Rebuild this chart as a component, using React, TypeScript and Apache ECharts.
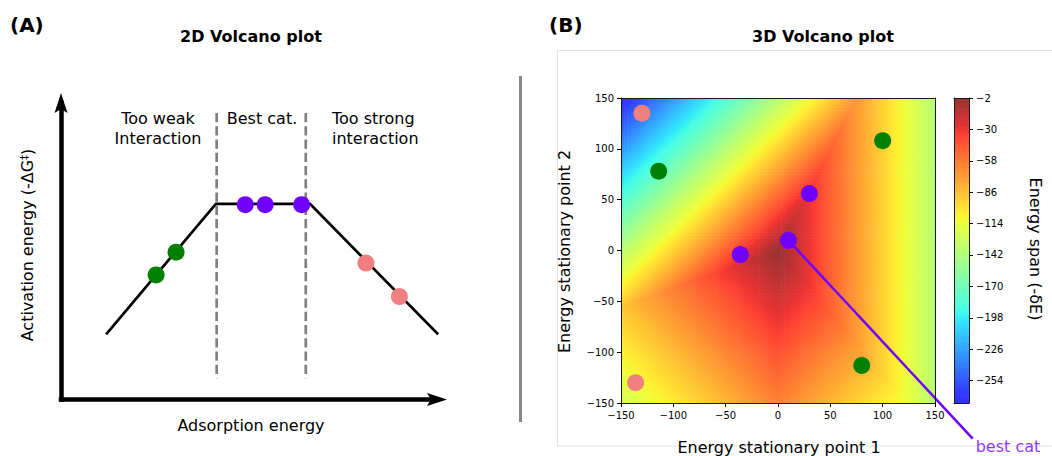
import React, { useEffect, useRef } from "react";
import * as echarts from "echarts";

const FONT = '"DejaVu Sans", Verdana, sans-serif';

// ---------- Panel A: schematic 2D volcano (arbitrary units, 0–10 on both axes) ----------
const volcanoX = [1.2, 4.12, 6.62, 10.03];
const volcanoY = [2.2, 6.6, 6.6, 2.2];
const weakCatX = [2.53, 3.06];
const weakCatY = [4.2, 4.97];
const bestCatX = [4.9, 5.43, 6.4];
const bestCatY = [6.57, 6.57, 6.57];
const strongCatX = [8.11, 9.0];
const strongCatY = [4.6, 3.47];
const regionBoundsX = [4.14, 6.51];
const regionBoundsY = [9.66, 0.72];

// ---------- Panel B: 3D volcano ----------
const stationaryTicks = [-150, -100, -50, 0, 50, 100, 150];
const greenX = [-114, 100, 80];
const greenY = [78, 108, -113];
const pinkX = [-130, -136];
const pinkY = [135, -130];
const purpleX = [-36, 10, 30];
const purpleY = [-4, 10, 56];
const pointerX = [10, 186];
const pointerY = [10, -185];
const spanTicks = [-2, -30, -58, -86, -114, -142, -170, -198, -226, -254];
const spanMin = -274;
const spanMax = -2;
// energy-span surface:
// -δE = peak − max(a·(E2−E1), b·E1, c·|E1| − d·E2)
const surfacePeak = -2;
const surfaceSlopes = [0.907, 0.907, 0.43, 0.39];
const surfaceStep = 3;

const heatCells: number[][] = [];
{
  const n = 300 / surfaceStep;
  const [a, b, c, d] = surfaceSlopes;
  for (let i = 0; i < n; i++) {
    const x = -150 + surfaceStep * (i + 0.5);
    for (let j = 0; j < n; j++) {
      const y = -150 + surfaceStep * (j + 0.5);
      const v = surfacePeak - Math.max(a * (y - x), b * x, c * Math.abs(x) - d * y);
      heatCells.push([x, y, v]);
    }
  }
}
const barStep = 2;
const barCells: number[][] = [];
for (let v = spanMin; v < spanMax; v += barStep) barCells.push([0.5, v + barStep / 2, v + barStep / 2]);

// jet colormap drawn at alpha 0.8 over white
const jetR = [[0, 0], [0.35, 0], [0.66, 1], [0.89, 1], [1, 0.5]];
const jetG = [[0, 0], [0.125, 0], [0.375, 1], [0.64, 1], [0.91, 0], [1, 0]];
const jetB = [[0, 0.5], [0.11, 1], [0.34, 1], [0.65, 0], [1, 0]];
function seg(stops: number[][], t: number) {
  for (let i = 1; i < stops.length; i++) {
    if (t <= stops[i][0]) {
      const [t0, v0] = stops[i - 1];
      const [t1, v1] = stops[i];
      return v0 + ((t - t0) / (t1 - t0)) * (v1 - v0);
    }
  }
  return stops[stops.length - 1][1];
}
function jet(t: number) {
  const f = (v: number) => Math.round(255 * (0.8 * v + 0.2));
  return `rgb(${f(seg(jetR, t))},${f(seg(jetG, t))},${f(seg(jetB, t))})`;
}
const palette: string[] = [];
for (let i = 0; i <= 54; i++) palette.push(jet(0.1 + (0.9 * i) / 54));

const zip = (xs: number[], ys: number[]) => xs.map((x, i) => [x, ys[i]]);
const minus = (v: number) => String(v).replace("-", "\u2212");

// layout of the panels (pixels)
const GA = { left: 61, top: 103, width: 376, height: 296.5 };
const GB = { left: 621, top: 98, width: 314, height: 305 };

function buildOption() {
  const series: any[] = [];
  // Panel A
  regionBoundsX.forEach((x) => {
    series.push({
      type: "line", xAxisIndex: 0, yAxisIndex: 0, z: 2, symbol: "none", silent: true,
      data: [[x, regionBoundsY[0]], [x, regionBoundsY[1]]],
      lineStyle: { color: "#808080", width: 2.7, type: [9.25, 4] },
    });
  });
  series.push({
    type: "line", xAxisIndex: 0, yAxisIndex: 0, z: 3, symbol: "none", clip: false,
    data: zip(volcanoX, volcanoY), lineStyle: { color: "#000", width: 2.7 },
  });
  const dotsA: [number[], number[], string][] = [
    [weakCatX, weakCatY, "#008000"],
    [bestCatX, bestCatY, "#7000ff"],
    [strongCatX, strongCatY, "#f08080"],
  ];
  dotsA.forEach(([xs, ys, c]) =>
    series.push({
      type: "scatter", xAxisIndex: 0, yAxisIndex: 0, z: 4, symbolSize: 17,
      data: zip(xs, ys), itemStyle: { color: c, opacity: 1 },
    })
  );
  // Panel B heat map
  const heatIndex = series.length;
  series.push({
    type: "custom", xAxisIndex: 1, yAxisIndex: 1, z: 1, clip: true, silent: true,
    data: heatCells,
    renderItem: (_p: any, api: any) => {
      const x = api.value(0), y = api.value(1), h = surfaceStep / 2;
      const p0 = api.coord([x - h, y + h]);
      const p1 = api.coord([x + h, y - h]);
      return {
        type: "rect",
        shape: { x: p0[0], y: p0[1], width: p1[0] - p0[0] + 0.6, height: p1[1] - p0[1] + 0.6 },
        style: { fill: api.visual("color") },
      };
    },
  });
  const barIndex = series.length;
  series.push({
    type: "custom", xAxisIndex: 3, yAxisIndex: 3, z: 1, clip: true, silent: true,
    data: barCells,
    renderItem: (_p: any, api: any) => {
      const v = api.value(1), h = barStep / 2;
      const p0 = api.coord([0, v + h]);
      const p1 = api.coord([1, v - h]);
      return {
        type: "rect",
        shape: { x: p0[0], y: p0[1], width: p1[0] - p0[0], height: p1[1] - p0[1] + 0.6 },
        style: { fill: api.visual("color") },
      };
    },
  });
  // pointer to the best catalyst, drawn on an extended grid with the same scale
  series.push({
    type: "line", xAxisIndex: 5, yAxisIndex: 5, z: 3, symbol: "none",
    data: zip(pointerX, pointerY), lineStyle: { color: "#7000ff", width: 2.5 },
  });
  series.push({
    type: "scatter", xAxisIndex: 5, yAxisIndex: 5, z: 5, symbolSize: 0,
    data: [[pointerX[1], pointerY[1]]],
    label: {
      show: true, formatter: "best cat", position: "right", distance: 3, offset: [0, 7.5],
      color: "#7000ff", fontSize: 16, fontFamily: FONT,
    },
  });
  const dotsB: [number[], number[], string][] = [
    [greenX, greenY, "#008000"],
    [pinkX, pinkY, "#f08080"],
    [purpleX, purpleY, "#7000ff"],
  ];
  dotsB.forEach(([xs, ys, c]) =>
    series.push({
      type: "scatter", xAxisIndex: 1, yAxisIndex: 1, z: 4, symbolSize: 17,
      data: zip(xs, ys), itemStyle: { color: c, opacity: 1 },
    })
  );

  const arrowAxis = (gridIndex: number) => ({
    gridIndex, type: "value", min: 0, max: 10,
    axisLine: { show: true, onZero: true, lineStyle: { color: "#000", width: 4.5, cap: "square" } },
    axisTick: { show: false }, axisLabel: { show: false }, splitLine: { show: false },
  });
  const frameLine = { show: true, onZero: false, lineStyle: { color: "#1a1a1a", width: 1 } };
  const tickLabel = { show: true, fontSize: 10, color: "#000", fontFamily: FONT, formatter: minus };
  const plain = { axisTick: { show: false }, axisLabel: { show: false }, splitLine: { show: false } };
  const hidden = (gridIndex: number, min: number, max: number) => ({
    gridIndex, type: "value", min, max, show: false, ...plain, axisLine: { show: false },
  });

  const text = (t: string, x: number, y: number, extra: any = {}) => ({
    type: "text", x, y, z: 10, silent: true,
    style: { text: t, fill: "#000", fontSize: 16, fontFamily: FONT, align: "center", verticalAlign: "middle", ...extra.style },
    ...(extra.rotation !== undefined ? { rotation: extra.rotation } : {}),
  });

  // arrow heads at the ends of panel A's axes
  const axX = GA.left, axY = GA.top + GA.height;
  const tipY = GA.top - 10, tipX = GA.left + GA.width + 10;
  const headLen = 20, headHalf = 6.5, notch = 4;

  return {
    animation: false,
    backgroundColor: "#fff",
    grid: [
      { ...GA, outerBoundsMode: "none" },
      { ...GB, outerBoundsMode: "none" },
      { left: 954, top: 98, width: 15, height: 305, outerBoundsMode: "none" },
      { left: GB.left, top: GB.top, width: (GB.width * 350) / 300, height: (GB.height * 350) / 300, outerBoundsMode: "none" },
    ],
    xAxis: [
      arrowAxis(0),
      {
        gridIndex: 1, type: "value", min: -150, max: 150, interval: 50, position: "bottom", z: 5,
        axisLine: frameLine, axisTick: { show: true, length: 4, lineStyle: { color: "#000" } },
        axisLabel: { ...tickLabel, margin: 7, customValues: stationaryTicks }, splitLine: { show: false },
      },
      { gridIndex: 1, type: "value", min: -150, max: 150, position: "top", z: 5, axisLine: frameLine, ...plain },
      { gridIndex: 2, type: "value", min: 0, max: 1, position: "bottom", z: 5, axisLine: frameLine, ...plain },
      { gridIndex: 2, type: "value", min: 0, max: 1, position: "top", z: 5, axisLine: frameLine, ...plain },
      hidden(3, -150, 200),
    ],
    yAxis: [
      arrowAxis(0),
      {
        gridIndex: 1, type: "value", min: -150, max: 150, interval: 50, position: "left", z: 5,
        axisLine: frameLine, axisTick: { show: true, length: 4, lineStyle: { color: "#000" } },
        axisLabel: { ...tickLabel, margin: 7 }, splitLine: { show: false },
      },
      { gridIndex: 1, type: "value", min: -150, max: 150, position: "right", z: 5, axisLine: frameLine, ...plain },
      {
        gridIndex: 2, type: "value", min: spanMin, max: spanMax, position: "right", z: 5,
        axisLine: frameLine,
        axisTick: { show: true, length: 4, customValues: spanTicks, lineStyle: { color: "#000" } },
        axisLabel: { ...tickLabel, margin: 7, customValues: spanTicks }, splitLine: { show: false },
      },
      { gridIndex: 2, type: "value", min: spanMin, max: spanMax, position: "left", z: 5, axisLine: frameLine, ...plain },
      hidden(3, -200, 150),
    ],
    visualMap: {
      type: "continuous", show: false, seriesIndex: [heatIndex, barIndex], dimension: 2,
      min: spanMin, max: spanMax, inRange: { color: palette },
    },
    graphic: [
      { type: "rect", z: -1, silent: true, shape: { x: 557.5, y: 50.5, width: 600, height: 395.5 }, style: { fill: "none", stroke: "#e2e2e2", lineWidth: 1 } },
      { type: "line", z: 1, silent: true, shape: { x1: 520.5, y1: 76, x2: 520.5, y2: 422 }, style: { stroke: "#888", lineWidth: 3 } },
      {
        type: "polygon", z: 12, silent: true,
        shape: { points: [[axX, tipY], [axX + headHalf, tipY + headLen], [axX, tipY + headLen - notch], [axX - headHalf, tipY + headLen]] },
        style: { fill: "#000" },
      },
      {
        type: "polygon", z: 12, silent: true,
        shape: { points: [[tipX, axY], [tipX - headLen, axY - headHalf], [tipX - headLen + notch, axY], [tipX - headLen, axY + headHalf]] },
        style: { fill: "#000" },
      },
      text("(A)", 10, 25, { style: { fontSize: 20, fontWeight: "bold", align: "left" } }),
      text("(B)", 549, 25, { style: { fontSize: 20, fontWeight: "bold", align: "left" } }),
      text("2D Volcano plot", 251, 36, { style: { fontWeight: "bold" } }),
      text("3D Volcano plot", 823, 36, { style: { fontWeight: "bold" } }),
      text("Too weak\nInteraction", 158, 128.7, { style: { lineHeight: 20 } }),
      text("Best cat.", 262, 118.7),
      text("Too strong\ninteraction", 332, 128.7, { style: { lineHeight: 20, align: "left" } }),
      text("Adsorption energy", 251, 425.5),
      {
        type: "text", x: 27.5, y: 245, rotation: Math.PI / 2, z: 10, silent: true,
        style: {
          text: "Activation energy (-ΔG{s|‡})", fill: "#000", fontSize: 16, fontFamily: FONT,
          align: "center", verticalAlign: "middle",
          rich: { s: { fontSize: 10, fontFamily: FONT, fill: "#000", verticalAlign: "top", lineHeight: 16 } },
        },
      },
      text("Energy stationary point 1", 779, 447),
      text("Energy stationary point 2", 564.5, 251.5, { rotation: Math.PI / 2 }),
      text("Energy span (-δE)", 1035, 249, { rotation: -Math.PI / 2 }),
    ],
    series,
  };
}

export default function App() {
  const ref = useRef<HTMLDivElement>(null);
  useEffect(() => {
    if (!ref.current) return;
    const chart = echarts.init(ref.current, null, { renderer: "svg" });
    chart.setOption(buildOption() as any);
    return () => chart.dispose();
  }, []);
  return (
    <div
      ref={ref}
      style={{ position: "absolute", left: 0, top: 0, width: 1052, height: 456, background: "#fff" }}
    />
  );
}
